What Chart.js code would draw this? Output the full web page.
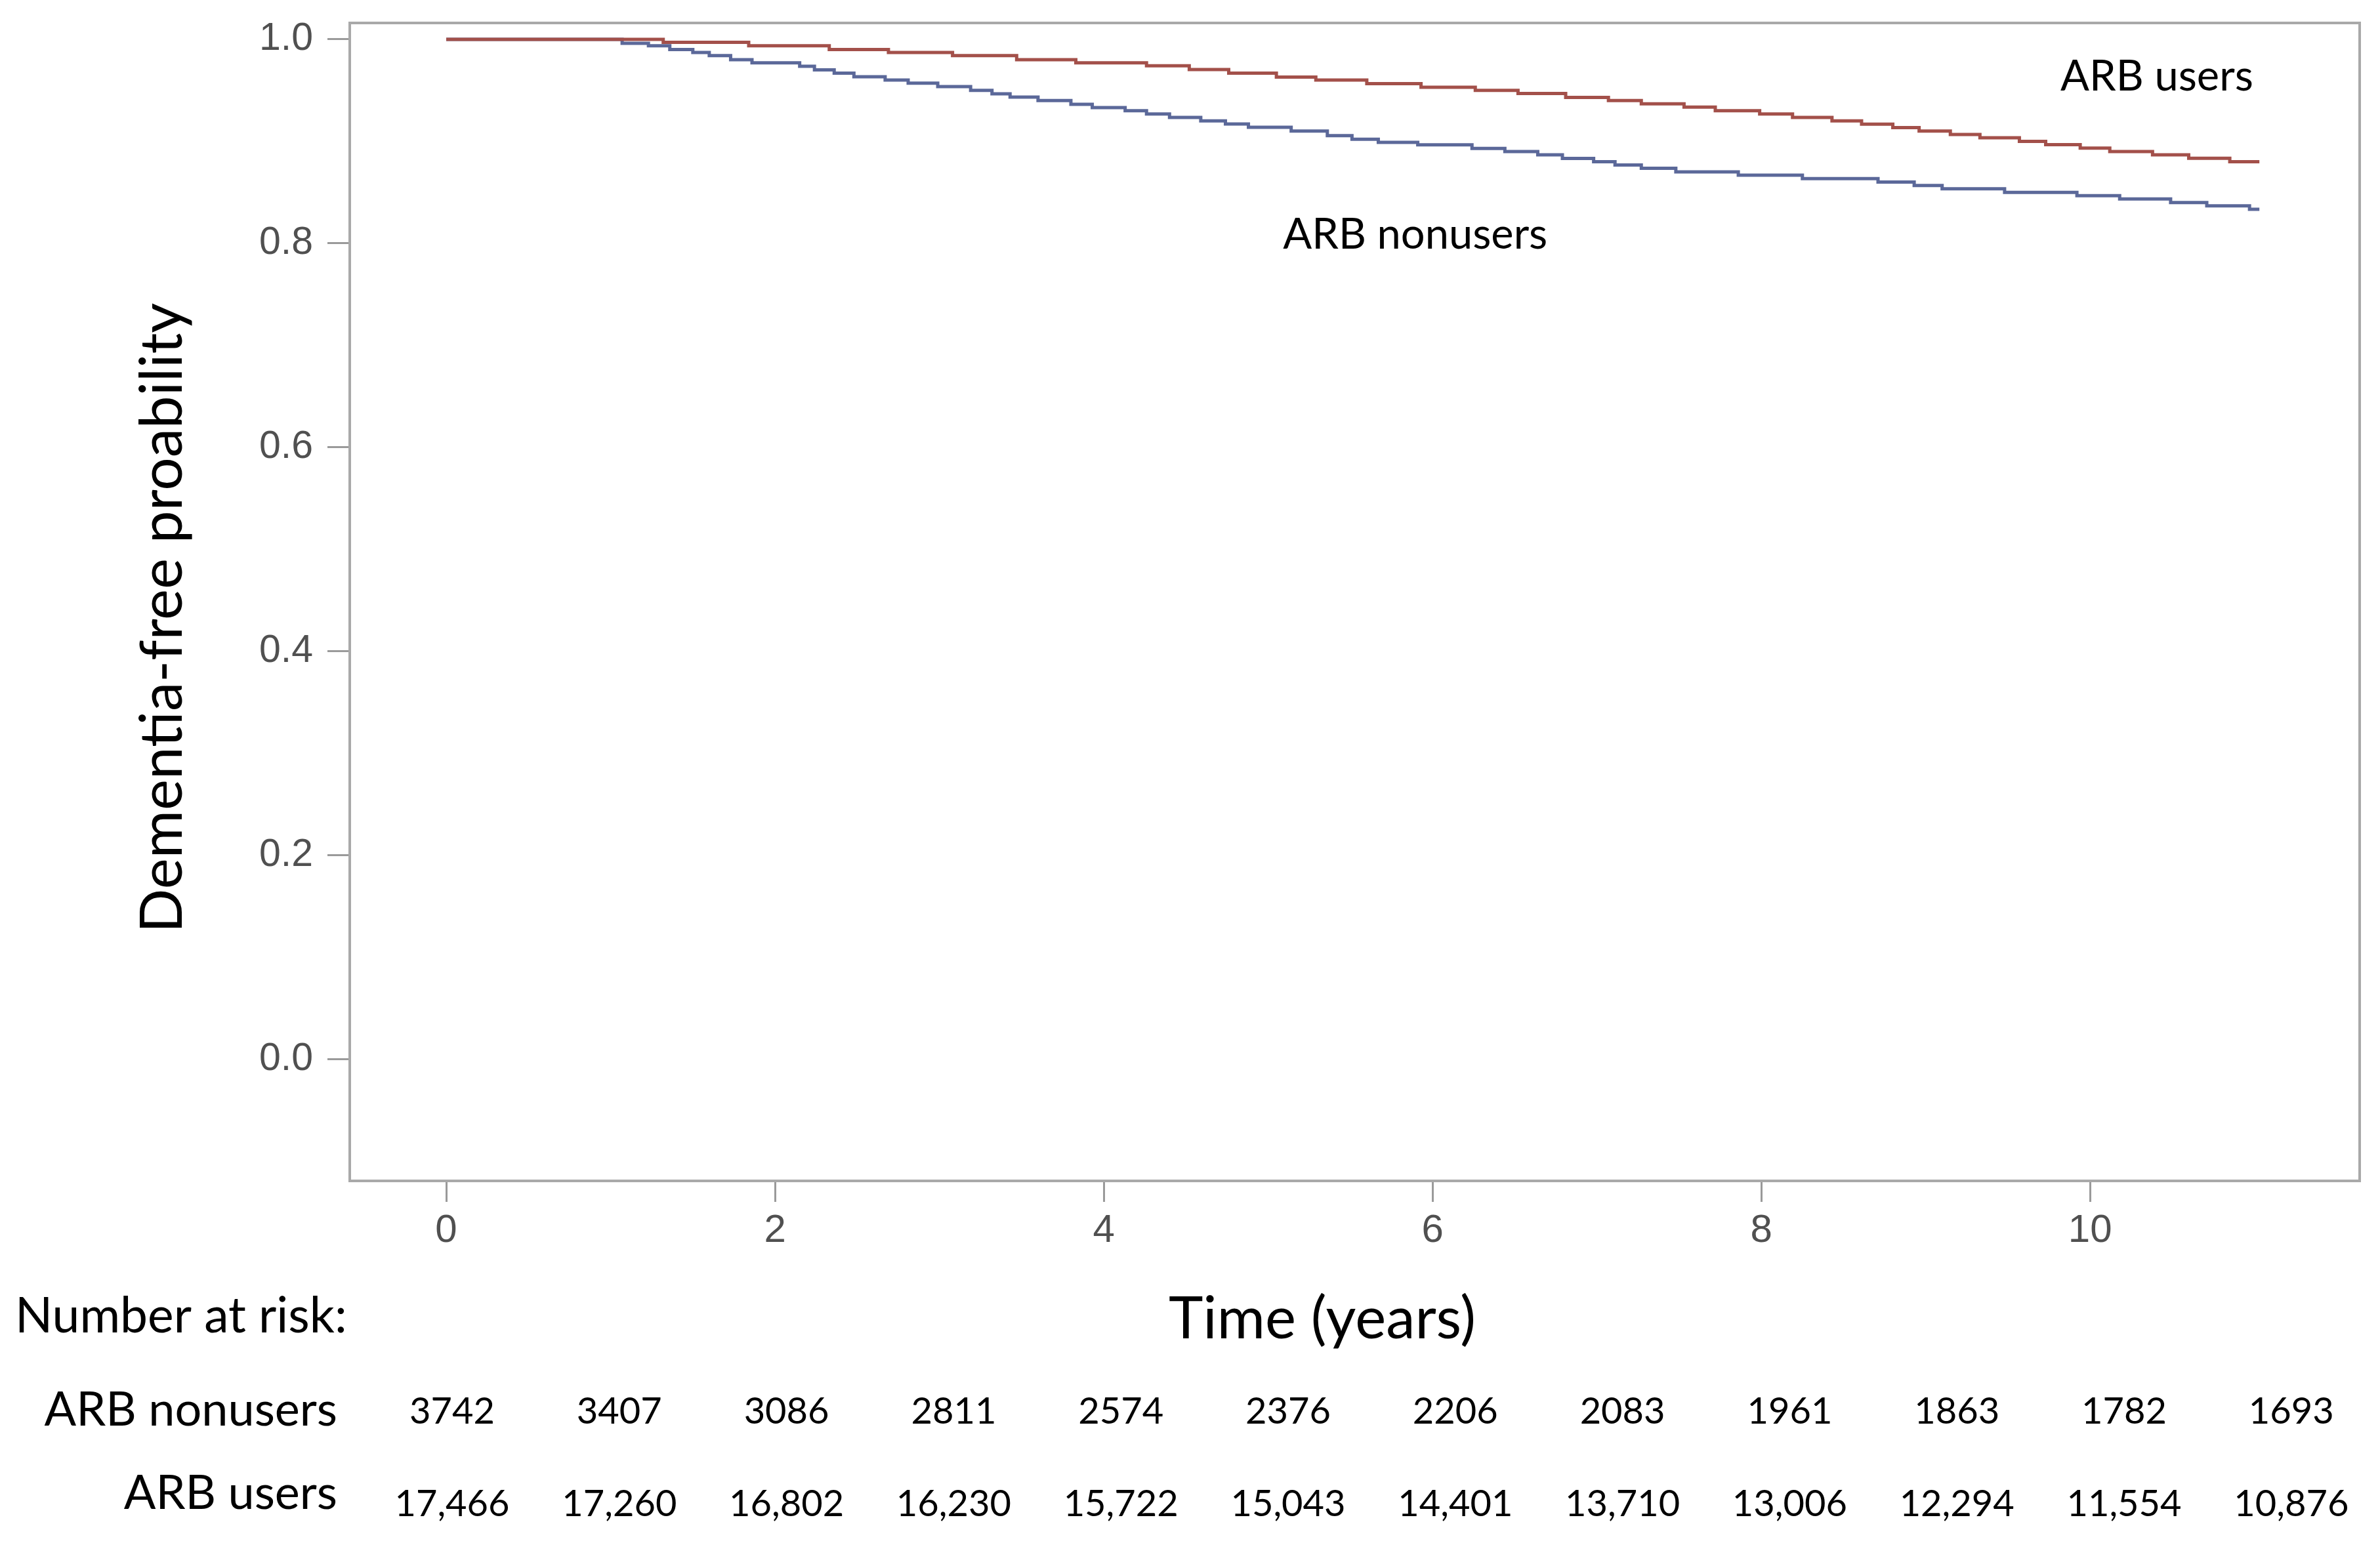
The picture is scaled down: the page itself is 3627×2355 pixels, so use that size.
<!DOCTYPE html>
<html>
<head>
<meta charset="utf-8">
<script src="https://cdn.jsdelivr.net/npm/chart.js@4.4.1/dist/chart.umd.min.js"></script>
<style>
html,body{margin:0;padding:0;background:#ffffff;}
#wrap{width:3627px;height:2355px;position:relative;}
canvas{display:block;}
</style>
</head>
<body>
<div id="wrap"><canvas id="km" width="3627" height="2355"></canvas></div>
<script>
// ---------- data ----------
const usersTime = [0, 1.32, 1.84, 2.33, 2.69, 3.08, 3.47, 3.83, 4.26, 4.52, 4.76, 5.05, 5.29, 5.60, 5.93, 6.26, 6.52, 6.81, 7.07, 7.27, 7.53, 7.72, 7.99, 8.19, 8.43, 8.61, 8.80, 8.96, 9.15, 9.33, 9.57, 9.73, 9.94, 10.12, 10.38, 10.60, 10.85, 11.03];
const usersSurv = [1.0, 0.997, 0.9936, 0.990, 0.987, 0.984, 0.980, 0.977, 0.974, 0.9704, 0.9668, 0.963, 0.960, 0.9565, 0.953, 0.950, 0.9468, 0.943, 0.940, 0.9368, 0.9335, 0.930, 0.9267, 0.9234, 0.920, 0.9168, 0.9135, 0.910, 0.9067, 0.9035, 0.900, 0.8967, 0.8934, 0.890, 0.8868, 0.8834, 0.880, 0.880];

const nonusersTime = [0, 1.07, 1.23, 1.36, 1.50, 1.60, 1.73, 1.86, 2.15, 2.24, 2.36, 2.48, 2.67, 2.81, 2.99, 3.19, 3.32, 3.43, 3.60, 3.80, 3.93, 4.13, 4.26, 4.40, 4.59, 4.74, 4.88, 5.14, 5.36, 5.51, 5.67, 5.91, 6.24, 6.44, 6.64, 6.79, 6.98, 7.11, 7.27, 7.48, 7.86, 8.25, 8.71, 8.93, 9.10, 9.48, 9.92, 10.18, 10.49, 10.71, 10.97, 11.03];
const nonusersSurv = [1.0, 0.996, 0.9936, 0.990, 0.987, 0.984, 0.980, 0.977, 0.9736, 0.970, 0.9668, 0.9633, 0.960, 0.957, 0.9537, 0.950, 0.9466, 0.9434, 0.940, 0.9363, 0.933, 0.930, 0.9267, 0.9234, 0.920, 0.917, 0.9138, 0.910, 0.9055, 0.902, 0.899, 0.8965, 0.893, 0.890, 0.8868, 0.8832, 0.880, 0.8767, 0.8735, 0.870, 0.8668, 0.8635, 0.860, 0.8567, 0.8535, 0.850, 0.8467, 0.8435, 0.840, 0.8367, 0.8334, 0.8334];

const xTickValues = [0, 2, 4, 6, 8, 10];
const yTickValues = [0.0, 0.2, 0.4, 0.6, 0.8, 1.0];

const riskNonusers = ["3742", "3407", "3086", "2811", "2574", "2376", "2206", "2083", "1961", "1863", "1782", "1693"];
const riskUsers = ["17,466", "17,260", "16,802", "16,230", "15,722", "15,043", "14,401", "13,710", "13,006", "12,294", "11,554", "10,876"];

const seriesNames = ["ARB users", "ARB nonusers"];

// ---------- helpers ----------
function pts(t, s) { return t.map((v, i) => ({ x: v, y: s[i] })); }

const TEXT_FONT = 'Lato, "Open Sans", sans-serif';
const TICK_FONT = '"Liberation Sans", Arial, sans-serif';

const annotationPlugin = {
  id: 'kmText',
  afterDraw(chart) {
    const ctx = chart.ctx;
    const ca = chart.chartArea;
    const xs = chart.scales.x, ys = chart.scales.y;
    ctx.save();
    // frame
    ctx.strokeStyle = '#a9a9a9';
    ctx.lineWidth = 4;
    ctx.strokeRect(ca.left, ca.top, ca.right - ca.left, ca.bottom - ca.top);

    ctx.fillStyle = '#000000';
    ctx.textBaseline = 'alphabetic';

    // curve labels inside the plot
    ctx.font = '65px ' + TEXT_FONT;
    ctx.textAlign = 'left';
    ctx.fillText(seriesNames[0], xs.getPixelForValue(9.82), ys.getPixelForValue(0.950));
    ctx.fillText(seriesNames[1], xs.getPixelForValue(5.09), ys.getPixelForValue(0.795));

    // y title
    ctx.save();
    ctx.translate(277, 942);
    ctx.rotate(-Math.PI / 2);
    ctx.textAlign = 'center';
    ctx.font = '89px ' + TEXT_FONT;
    ctx.fillText('Dementia-free proability', 0, 0);
    ctx.restore();

    // x title
    ctx.textAlign = 'center';
    ctx.font = '89px ' + TEXT_FONT;
    ctx.fillText('Time (years)', 2015, 2040);

    // number at risk table
    ctx.textAlign = 'left';
    ctx.font = '75px ' + TEXT_FONT;
    ctx.fillText('Number at risk:', 23, 2031);
    ctx.textAlign = 'right';
    ctx.font = '72px ' + TEXT_FONT;
    ctx.fillText(seriesNames[1], 514, 2173);
    ctx.fillText(seriesNames[0], 514, 2300);

    ctx.textAlign = 'center';
    ctx.font = '56px ' + TEXT_FONT;
    const col0 = ca.left + 156, colStep = 254.8;
    riskNonusers.forEach((v, i) => ctx.fillText(v, col0 + i * colStep, 2170));
    riskUsers.forEach((v, i) => ctx.fillText(v, col0 + i * colStep, 2311));
    ctx.restore();
  }
};

new Chart(document.getElementById('km'), {
  type: 'line',
  data: {
    datasets: [
      {
        label: seriesNames[0],
        data: pts(usersTime, usersSurv),
        borderColor: '#a3504a',
        borderWidth: 5,
        pointRadius: 0,
        stepped: 'before',
        fill: false
      },
      {
        label: seriesNames[1],
        data: pts(nonusersTime, nonusersSurv),
        borderColor: '#5b6899',
        borderWidth: 5,
        pointRadius: 0,
        stepped: 'before',
        fill: false
      }
    ]
  },
  options: {
    responsive: false,
    devicePixelRatio: 1,
    animation: false,
    layout: { padding: { top: 35, right: 31, left: 0, bottom: 0 } },
    plugins: { legend: { display: false }, tooltip: { enabled: false }, title: { display: false } },
    scales: {
      x: {
        type: 'linear',
        min: -0.587,
        max: 11.64,
        afterBuildTicks: (scale) => { scale.ticks = xTickValues.map(v => ({ value: v })); },
        afterFit: (scale) => { scale.height = 555; scale.paddingLeft = 0; scale.paddingRight = 0; },
        grid: { display: true, drawOnChartArea: false, drawTicks: true, tickLength: 32, tickColor: '#9a9a9a', tickWidth: 3 },
        border: { display: false },
        ticks: {
          padding: 8,
          color: '#505050',
          font: { family: TICK_FONT, size: 60 },
          maxRotation: 0,
          callback: (v) => String(v)
        }
      },
      y: {
        type: 'linear',
        min: -0.119,
        max: 1.016,
        afterBuildTicks: (scale) => { scale.ticks = yTickValues.map(v => ({ value: v })); },
        afterFit: (scale) => { scale.width = 533; scale.paddingTop = 0; scale.paddingBottom = 0; },
        grid: { display: true, drawOnChartArea: false, drawTicks: true, tickLength: 34, tickColor: '#9a9a9a', tickWidth: 3 },
        border: { display: false },
        ticks: {
          padding: 22,
          color: '#505050',
          font: { family: TICK_FONT, size: 59 },
          callback: (v) => Number(v).toFixed(1)
        }
      }
    }
  },
  plugins: [annotationPlugin]
});
</script>
</body>
</html>
